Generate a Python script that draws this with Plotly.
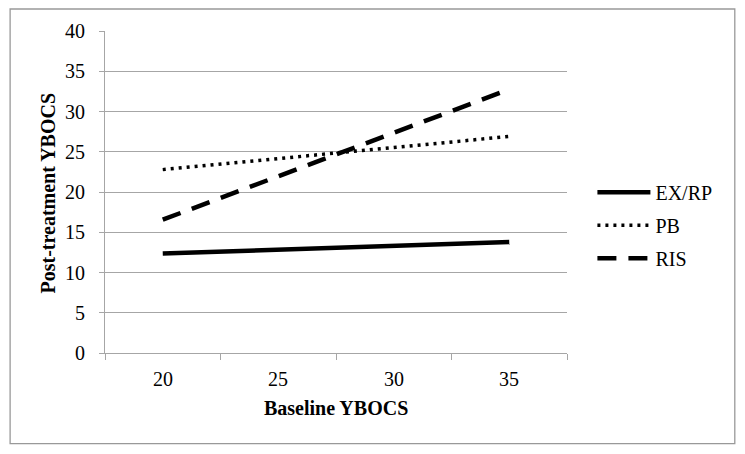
import plotly.graph_objects as go

categories = ["20", "25", "30", "35"]
ex_rp = [12.36, None, None, 13.78]
pb = [22.78, None, None, 26.9]
ris = [16.56, None, None, 32.75]
y_ticks = [0, 5, 10, 15, 20, 25, 30, 35, 40]
x_title = "Baseline YBOCS"
y_title = "Post-treatment YBOCS"

FONT = "Liberation Serif"
GRID = "#a6a6a6"

fig = go.Figure()
fig.add_trace(go.Scatter(x=categories, y=ex_rp, name="EX/RP", mode="lines", connectgaps=True,
                         line=dict(color="black", width=4.5), legendgroup="a"))
fig.add_trace(go.Scatter(x=categories, y=pb, name="PB", mode="lines", connectgaps=True,
                         line=dict(color="black", width=3.5, dash="3px,5px"), legendgroup="b"))
fig.add_trace(go.Scatter(x=categories, y=ris, name="RIS", mode="lines", connectgaps=True,
                         line=dict(color="black", width=4.5, dash="19px,12px"), legendgroup="c"))

fig.update_layout(
    width=745, height=454,
    margin=dict(l=104.5, r=178, t=31, b=100.7),
    paper_bgcolor="white", plot_bgcolor="white",
    font=dict(family=FONT, size=20, color="black"),
    showlegend=True,
    legend=dict(x=1.055, y=0.56, xanchor="left", yanchor="top",
                font=dict(family=FONT, size=20), tracegroupgap=4, itemwidth=53,
                bgcolor="rgba(0,0,0,0)"),
    xaxis=dict(type="category", range=[-0.5, 3.5], tickson="boundaries",
               showgrid=False, showline=True, linecolor=GRID, linewidth=1.3,
               ticks="outside", ticklen=6, tickcolor=GRID, tickwidth=1.3,
               showticklabels=False),
    yaxis=dict(range=[0, 40], tickvals=y_ticks, showgrid=True, gridcolor=GRID, gridwidth=1.3,
               showline=True, linecolor=GRID, linewidth=1.3,
               ticks="outside", ticklen=5, tickcolor=GRID, tickwidth=1.3, zeroline=False,
               showticklabels=False),
)

# tick labels (placed through the axes' own scales; category axis uses index positions)
for i, c in enumerate(categories):
    fig.add_annotation(x=i, xref="x", y=0, yref="paper", text=c, showarrow=False,
                       yanchor="middle", yshift=-26, font=dict(family=FONT, size=20))
for v in y_ticks:
    fig.add_annotation(x=0, xref="paper", y=v, yref="y", text=str(v), showarrow=False,
                       xanchor="right", xshift=-18, yanchor="middle", font=dict(family=FONT, size=20))

# axis titles
fig.add_annotation(x=0.5, xref="paper", y=0, yref="paper", text="<b>%s</b>" % x_title,
                   showarrow=False, yanchor="middle", yshift=-55, font=dict(family=FONT, size=20))
fig.add_annotation(x=0, xref="paper", y=0.497, yref="paper", text="<b>%s</b>" % y_title,
                   showarrow=False, textangle=-90, xanchor="center", yanchor="middle",
                   xshift=-57.5, font=dict(family=FONT, size=20))

# outer chart border
fig.add_shape(type="rect", xref="paper", yref="paper",
              x0=-0.2054, x1=1.3632, y0=-0.2814, y1=1.0683,
              line=dict(color="#999999", width=1.3), fillcolor="rgba(0,0,0,0)", layer="below")

fig.write_html("out.html", config={"displayModeBar": False},
               post_script="document.body.style.margin='0';document.body.style.padding='0';")
